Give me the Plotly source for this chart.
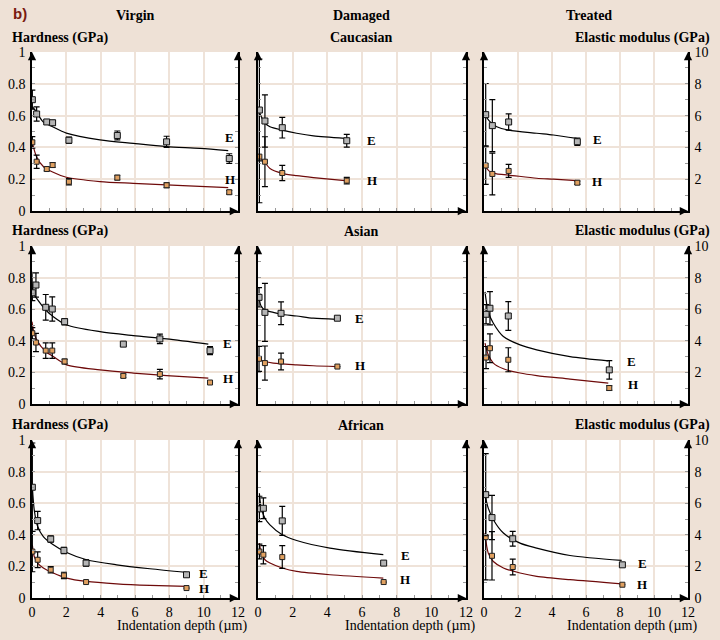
import plotly.graph_objects as go

# ---------------- DATA ----------------
# Hardness H in GPa (left axis 0-1), elastic modulus E in GPa (right axis 0-10)
columns = ["Virgin", "Damaged", "Treated"]
rows = ["Caucasian", "Asian", "African"]
x_ticks = [0, 2, 4, 6, 8, 10, 12]

# Virgin / Caucasian
vc_x = [0.02, 0.27, 0.86, 1.2, 2.15, 4.97, 7.84, 11.49]
vc_E = [7.0, 6.1, 5.6, 5.55, 4.45, 4.75, 4.35, 3.3]
vc_Eerr = [0.6, 0.45, 0.15, 0.15, 0.2, 0.28, 0.35, 0.3]
vc_H = [0.432, 0.31, 0.264, 0.289, 0.184, 0.21, 0.162, 0.118]
vc_Herr = [0.036, 0.042, 0.012, 0.015, 0.02, 0.015, 0.015, 0.012]
vc_fit_x = [0.02, 0.27, 0.66, 1.2, 2.0, 3.96, 5.9, 7.84, 9.78, 11.43]
vc_fit_E = [6.56, 6.2, 5.6, 5.3, 4.9, 4.47, 4.25, 4.05, 3.94, 3.8]
vc_fit_H = [0.43, 0.34, 0.28, 0.245, 0.212, 0.185, 0.174, 0.164, 0.155, 0.147]

# Damaged / Caucasian
dc_x = [0.08, 0.40, 1.40, 5.12]
dc_E = [6.35, 5.66, 5.24, 4.42]
dc_Eerr = [3.2, 1.64, 0.65, 0.4]
dc_H = [0.342, 0.31, 0.239, 0.191]
dc_Herr = [0.29, 0.157, 0.048, 0.021]
dc_fit_x = [0.04, 0.4, 0.69, 1.4, 2.23, 3.2, 5.02]
dc_fit_E = [6.31, 5.52, 5.3, 5.09, 4.89, 4.72, 4.57]
dc_fit_H = [0.342, 0.304, 0.268, 0.237, 0.222, 0.21, 0.191]

# Treated / Caucasian
tc_x = [0.1, 0.49, 1.45, 5.49]
tc_E = [6.06, 5.37, 5.6, 4.36]
tc_Eerr = [1.96, 1.63, 0.51, 0.23]
tc_H = [0.286, 0.233, 0.252, 0.178]
tc_Herr = [0.118, 0.131, 0.041, 0.01]
tc_fit_x = [0.04, 0.35, 0.75, 1.45, 3.1, 4.08, 5.45]
tc_fit_E = [6.06, 5.62, 5.3, 5.09, 4.89, 4.78, 4.57]
tc_fit_H = [0.285, 0.247, 0.233, 0.226, 0.206, 0.2, 0.191]

# Virgin / Asian
va_x = [0.02, 0.23, 0.8, 1.18, 1.9, 5.32, 7.45, 10.37]
va_E = [7.04, 7.53, 6.12, 6.01, 5.21, 3.79, 4.12, 3.38]
va_Eerr = [0.5, 0.77, 0.81, 0.77, 0.2, 0.1, 0.3, 0.26]
va_H = [0.448, 0.389, 0.338, 0.338, 0.269, 0.178, 0.189, 0.136]
va_Herr = [0.035, 0.058, 0.049, 0.049, 0.015, 0.012, 0.03, 0.0]
va_fit_x = [0.0, 0.08, 0.27, 0.8, 1.24, 2.02, 3.96, 5.9, 7.84, 10.27]
va_fit_E = [8.37, 7.0, 6.69, 5.95, 5.53, 5.0, 4.58, 4.33, 4.12, 3.79]
va_fit_H = [0.521, 0.469, 0.406, 0.332, 0.30, 0.248, 0.216, 0.196, 0.18, 0.164]

# Damaged / Asian
da_x = [0.06, 0.4, 1.33, 4.58]
da_E = [6.75, 5.8, 5.74, 5.43]
da_Eerr = [0.61, 1.84, 0.72, 0.0]
da_H = [0.286, 0.259, 0.269, 0.237]
da_Herr = [0.079, 0.108, 0.053, 0.0]
da_fit_x = [0.06, 0.17, 0.4, 0.88, 1.33, 2.23, 3.19, 4.54]
da_fit_E = [6.75, 6.22, 5.95, 5.8, 5.68, 5.57, 5.43, 5.36]
da_fit_H = [0.286, 0.278, 0.269, 0.259, 0.254, 0.248, 0.242, 0.237]

# Treated / Asian
ta_x = [0.12, 0.35, 1.43, 7.37]
ta_E = [5.68, 6.06, 5.57, 2.16]
ta_Eerr = [0.61, 1.05, 0.91, 0.58]
ta_H = [0.294, 0.353, 0.28, 0.101]
ta_Herr = [0.07, 0.091, 0.076, 0.015]
ta_fit_x = [0.06, 0.25, 0.55, 1.14, 2.12, 3.1, 5.06, 7.31]
ta_fit_E = [7.1, 5.84, 5.11, 4.27, 3.74, 3.43, 3.0, 2.73]
ta_fit_H = [0.385, 0.311, 0.259, 0.223, 0.196, 0.18, 0.158, 0.132]

# Virgin / African
vf_x = [0.02, 0.33, 1.09, 1.86, 3.15, 9.0]
vf_E = [7.01, 4.9, 3.73, 3.01, 2.21, 1.47]
vf_Eerr = [2.8, 0.58, 0.2, 0.2, 0.2, 0.0]
vf_H = [0.294, 0.242, 0.179, 0.143, 0.101, 0.063]
vf_Herr = [0.128, 0.05, 0.02, 0.02, 0.0, 0.0]
vf_fit_x = [0.02, 0.13, 0.33, 0.66, 1.24, 2.02, 3.18, 4.93, 6.87, 9.0]
vf_fit_E = [7.05, 5.58, 4.52, 3.89, 3.37, 2.88, 2.42, 2.1, 1.85, 1.62]
vf_fit_H = [0.337, 0.263, 0.221, 0.19, 0.158, 0.126, 0.105, 0.09, 0.08, 0.073]

# Damaged / African
df_x = [0.08, 0.31, 1.4, 7.25]
df_E = [5.64, 5.68, 4.88, 2.21]
df_Eerr = [0.8, 0.66, 0.92, 0.0]
df_H = [0.294, 0.274, 0.259, 0.101]
df_Herr = [0.047, 0.058, 0.072, 0.0]
df_fit_x = [0.08, 0.17, 0.4, 0.69, 1.4, 2.23, 4.15, 7.23]
df_fit_E = [6.63, 5.79, 5.05, 4.63, 4.0, 3.64, 3.16, 2.74]
df_fit_H = [0.347, 0.294, 0.242, 0.221, 0.19, 0.168, 0.147, 0.126]

# Treated / African
tf_x = [0.1, 0.47, 1.69, 8.14]
tf_E = [6.54, 5.09, 3.75, 2.1]
tf_Eerr = [2.6, 1.4, 0.47, 0.0]
tf_H = [0.385, 0.267, 0.196, 0.084]
tf_Herr = [0.27, 0.153, 0.05, 0.0]
tf_fit_x = [0.06, 0.25, 0.55, 1.14, 2.12, 3.1, 5.06, 8.1]
tf_fit_E = [6.53, 5.69, 4.95, 4.11, 3.47, 3.16, 2.69, 2.38]
tf_fit_H = [0.411, 0.284, 0.231, 0.19, 0.158, 0.137, 0.116, 0.09]

panels = [
    (vc_x, vc_E, vc_Eerr, vc_H, vc_Herr, vc_fit_x, vc_fit_E, vc_fit_H),
    (dc_x, dc_E, dc_Eerr, dc_H, dc_Herr, dc_fit_x, dc_fit_E, dc_fit_H),
    (tc_x, tc_E, tc_Eerr, tc_H, tc_Herr, tc_fit_x, tc_fit_E, tc_fit_H),
    (va_x, va_E, va_Eerr, va_H, va_Herr, va_fit_x, va_fit_E, va_fit_H),
    (da_x, da_E, da_Eerr, da_H, da_Herr, da_fit_x, da_fit_E, da_fit_H),
    (ta_x, ta_E, ta_Eerr, ta_H, ta_Herr, ta_fit_x, ta_fit_E, ta_fit_H),
    (vf_x, vf_E, vf_Eerr, vf_H, vf_Herr, vf_fit_x, vf_fit_E, vf_fit_H),
    (df_x, df_E, df_Eerr, df_H, df_Herr, df_fit_x, df_fit_E, df_fit_H),
    (tf_x, tf_E, tf_Eerr, tf_H, tf_Herr, tf_fit_x, tf_fit_E, tf_fit_H),
]

# ---------------- LAYOUT / STYLE ----------------
W, Hh = 720, 640
BG = "#EEE1D6"
GRID = "#EFE3D9"
SERIF = "Liberation Serif, Times New Roman, serif"
H_COLOR = "#6E0A0A"
col_px = [(32, 238), (258, 466), (484, 688)]
row_px = [(52, 211), (246, 404), (440, 598)]
# label positions (x in µm, y in hardness units) for "E" and "H" tags
label_pos = [
    ((11.1, 0.465), (11.1, 0.20)),
    ((6.2, 0.442), (6.15, 0.189)),
    ((6.3, 0.447), (6.25, 0.184)),
    ((11.0, 0.385), (11.0, 0.164)),
    ((5.5, 0.543), (5.48, 0.242)),
    ((8.3, 0.269), (8.33, 0.126)),
    ((9.6, 0.152), (9.6, 0.063)),
    ((8.15, 0.269), (8.1, 0.12)),
    ((8.95, 0.221), (8.9, 0.084)),
]

fig = go.Figure()
annotations = []

for i, (px, E, Eerr, Hv, Herr, fx, fE, fH) in enumerate(panels):
    r, c = divmod(i, 3)
    n = i + 1
    xa = "x" if n == 1 else f"x{n}"
    ya = "y" if n == 1 else f"y{n}"
    ye = f"y{n + 9}"

    fig.add_trace(go.Scatter(x=fx, y=fE, xaxis=xa, yaxis=ye, mode="lines",
                             line=dict(color="black", width=1.2, shape="spline", smoothing=0.8),
                             showlegend=False, hoverinfo="skip"))
    fig.add_trace(go.Scatter(x=fx, y=fH, xaxis=xa, yaxis=ya, mode="lines",
                             line=dict(color=H_COLOR, width=1.2, shape="spline", smoothing=0.8),
                             showlegend=False, hoverinfo="skip"))
    fig.add_trace(go.Scatter(x=px, y=E, xaxis=xa, yaxis=ye, mode="markers",
                             marker=dict(symbol="square", size=6, color="#B5B5B5",
                                         line=dict(color="#111111", width=1)),
                             error_y=dict(type="data", array=Eerr, color="black",
                                          thickness=1.2, width=3),
                             showlegend=False, name="E"))
    fig.add_trace(go.Scatter(x=px, y=Hv, xaxis=xa, yaxis=ya, mode="markers",
                             marker=dict(symbol="square", size=5, color="#E0A060",
                                         line=dict(color="#222222", width=1)),
                             error_y=dict(type="data", array=Herr, color="black",
                                          thickness=1.2, width=3),
                             showlegend=False, name="H"))

    x0, x1 = col_px[c]
    y0, y1 = row_px[r]
    show_x_labels = (r == 2)
    fig.layout[f"xaxis{n}"] = dict(
        domain=[x0 / W, x1 / W], anchor=ya, range=[0, 12], automargin=False,
        tickvals=x_ticks, showticklabels=show_x_labels,
        tickfont=dict(family=SERIF, size=14, color="black"),
        showgrid=True, gridcolor=GRID, gridwidth=2, zeroline=False,
        showline=True, linecolor="black", linewidth=1.5,
        ticks="inside", ticklen=3, tickcolor="#9a9a9a",
        minor=dict(dtick=1, ticks="inside", ticklen=3, tickcolor="#9a9a9a"),
        fixedrange=True,
    )
    fig.layout[f"yaxis{n}"] = dict(
        domain=[1 - y1 / Hh, 1 - y0 / Hh], anchor=xa, range=[0, 1], automargin=False,
        dtick=0.2, showticklabels=(c == 0),
        tickfont=dict(family=SERIF, size=14, color="black"),
        showgrid=True, gridcolor=GRID, gridwidth=2, zeroline=False,
        showline=True, linecolor="black", linewidth=1.5,
        ticks="inside", ticklen=3, tickcolor="#9a9a9a",
        minor=dict(dtick=0.1, ticks="inside", ticklen=3, tickcolor="#9a9a9a"),
        ticklabelstandoff=2,
        fixedrange=True,
    )
    if c == 2:
        etv = [0, 2, 4, 6, 8, 10] if r == 2 else [2, 4, 6, 8, 10]
    else:
        etv = [0, 2, 4, 6, 8, 10]
    fig.layout[f"yaxis{n + 9}"] = dict(
        overlaying=ya, side="right", anchor=xa, range=[0, 10], automargin=False,
        tickvals=etv, showticklabels=(c == 2),
        tickfont=dict(family=SERIF, size=14, color="black"),
        showgrid=False, zeroline=False,
        showline=True, linecolor="black", linewidth=1.5,
        ticks="inside", ticklen=3, tickcolor="#9a9a9a",
        minor=dict(dtick=1, ticks="inside", ticklen=3, tickcolor="#9a9a9a"),
        ticklabelstandoff=2,
        fixedrange=True,
    )

    # arrow heads on the axes
    for (ax_x, ax_y, dx, dy) in [(x0, y0, 0, 9), (x1, y0, 0, 9), (x1, y1, -9, 0)]:
        annotations.append(dict(xref="paper", yref="paper", x=ax_x / W, y=1 - ax_y / Hh,
                                ax=dx, ay=dy, text="", showarrow=True, arrowhead=2,
                                arrowsize=1.1, arrowwidth=1.5, arrowcolor="black"))

    # E / H tags
    (ex, ey), (hx, hy) = label_pos[i]
    for t, (lx, ly) in (("E", (ex, ey)), ("H", (hx, hy))):
        annotations.append(dict(xref=xa, yref=ya, x=lx, y=ly, text=f"<b>{t}</b>",
                                showarrow=False, xanchor="left", yanchor="middle",
                                font=dict(family=SERIF, size=13, color="black")))

    if r == 2:
        annotations.append(dict(xref="paper", yref="paper", x=(x1 + 11) / W, y=1 - 626 / Hh,
                                text="Indentation depth (µm)", showarrow=False,
                                xanchor="right", yanchor="middle",
                                font=dict(family=SERIF, size=14, color="black")))

# Column headings
for name, cx in zip(columns, [135, 361, 589]):
    annotations.append(dict(xref="paper", yref="paper", x=cx / W, y=1 - 15 / Hh,
                            text=f"<b>{name}</b>", showarrow=False,
                            xanchor="center", yanchor="middle",
                            font=dict(family=SERIF, size=14, color="black")))
annotations.append(dict(xref="paper", yref="paper", x=11 / W, y=1 - 14 / Hh,
                        text="<b>b)</b>", showarrow=False, xanchor="left", yanchor="middle",
                        font=dict(family="Liberation Sans, Arial, sans-serif", size=15,
                                  color="#7A1A10")))

# Row headings
for name, ry in zip(rows, [38, 231, 425]):
    annotations.append(dict(xref="paper", yref="paper", x=10 / W, y=1 - ry / Hh,
                            text="<b>Hardness (GPa)</b>", showarrow=False,
                            xanchor="left", yanchor="middle",
                            font=dict(family=SERIF, size=14, color="black")))
    annotations.append(dict(xref="paper", yref="paper", x=361 / W, y=1 - ry / Hh,
                            text=f"<b>{name}</b>", showarrow=False,
                            xanchor="center", yanchor="middle",
                            font=dict(family=SERIF, size=14, color="black")))
    annotations.append(dict(xref="paper", yref="paper", x=712 / W, y=1 - ry / Hh,
                            text="<b>Elastic modulus (GPa)</b>", showarrow=False,
                            xanchor="right", yanchor="middle",
                            font=dict(family=SERIF, size=14, color="black")))

fig.update_layout(
    width=W, height=Hh, margin=dict(l=0, r=0, t=0, b=0),
    paper_bgcolor=BG, plot_bgcolor="white",
    annotations=annotations, showlegend=False,
)

fig.write_html("out.html")
